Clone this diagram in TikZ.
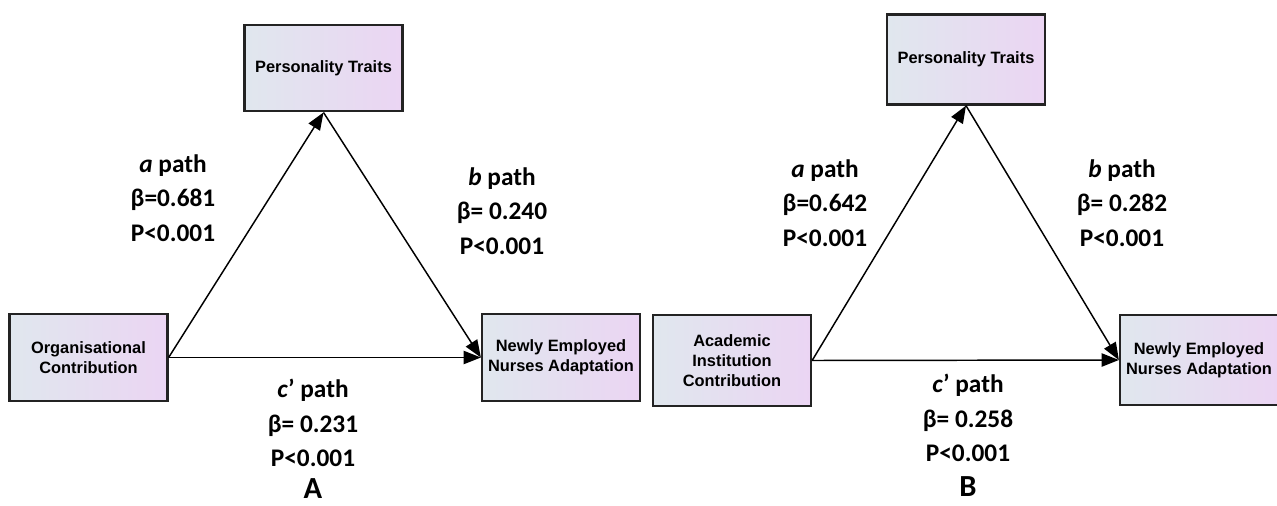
\documentclass[tikz,border=0pt]{standalone}
\usepackage{fontspec}
\setmainfont{Carlito}
\newfontfamily\boxfont{Liberation Sans}
\usetikzlibrary{positioning,arrows.meta}
\definecolor{boxleft}{RGB}{224,231,238}
\definecolor{boxright}{RGB}{235,213,243}
\definecolor{boxline}{RGB}{35,35,35}
\tikzset{
  varbox/.style={draw=boxline, line width=1.7pt, left color=boxleft, right color=boxright,
    minimum width=118.5pt, minimum height=65pt, align=center,
    font=\boxfont\bfseries\fontsize{12.3}{15}\selectfont},
  pathlbl/.style={align=center, font=\bfseries\fontsize{19}{26}\selectfont},
  panellbl/.style={inner sep=0.5pt, font=\bfseries\fontsize{23}{26}\selectfont},
  link/.style={line width=1.1pt, -{Triangle[length=13pt,width=10pt]}}
}
\begin{document}
\begin{tikzpicture}[x=0.75pt, y=-0.75pt]
  \useasboundingbox (0,0) rectangle (1277,506);
  % panel A
  \node[varbox] (traitsA) at (323.5,68) {Personality Traits};
  \node[varbox] (orgA) at (88.5,357.5) {Organisational\\Contribution};
  \node[varbox] (adaptA) at (561,357.5) {Newly Employed\\Nurses Adaptation};
  \draw[link] (orgA.east) -- (traitsA.south);
  \draw[link] (traitsA.south) -- (adaptA.west);
  \draw[link] (orgA.east) -- (adaptA.west);
  \node[pathlbl] (apathA) at (173,198) {\textit{a} path\\β=0.681\\P<0.001};
  \node[pathlbl] (bpathA) at (502,211) {\textit{b} path\\β= 0.240\\P<0.001};
  \node[pathlbl] (cpathA) at (313,423) {\textit{c}’ path\\β= 0.231\\P<0.001};
  \node[panellbl] (panelA) at (313,489) {A};
  % panel B
  \node[varbox, minimum height=67.5pt] (traitsB) at (966,59.5) {Personality Traits};
  \node[varbox, minimum height=68pt] (instB) at (732,360.5) {Academic\\Institution\\Contribution};
  \node[varbox, minimum height=67.5pt] (adaptB) at (1199,360) {Newly Employed\\Nurses Adaptation};
  \draw[link] (instB.east) -- (traitsB.south);
  \draw[link] (traitsB.south) -- (adaptB.west);
  \draw[link] (instB.east) -- (adaptB.west);
  \node[pathlbl] (apathB) at (825,203) {\textit{a} path\\β=0.642\\P<0.001};
  \node[pathlbl] (bpathB) at (1122,203) {\textit{b} path\\β= 0.282\\P<0.001};
  \node[pathlbl] (cpathB) at (968,418) {\textit{c}’ path\\β= 0.258\\P<0.001};
  \node[panellbl] (panelB) at (968,487) {B};
\end{tikzpicture}
\end{document}
